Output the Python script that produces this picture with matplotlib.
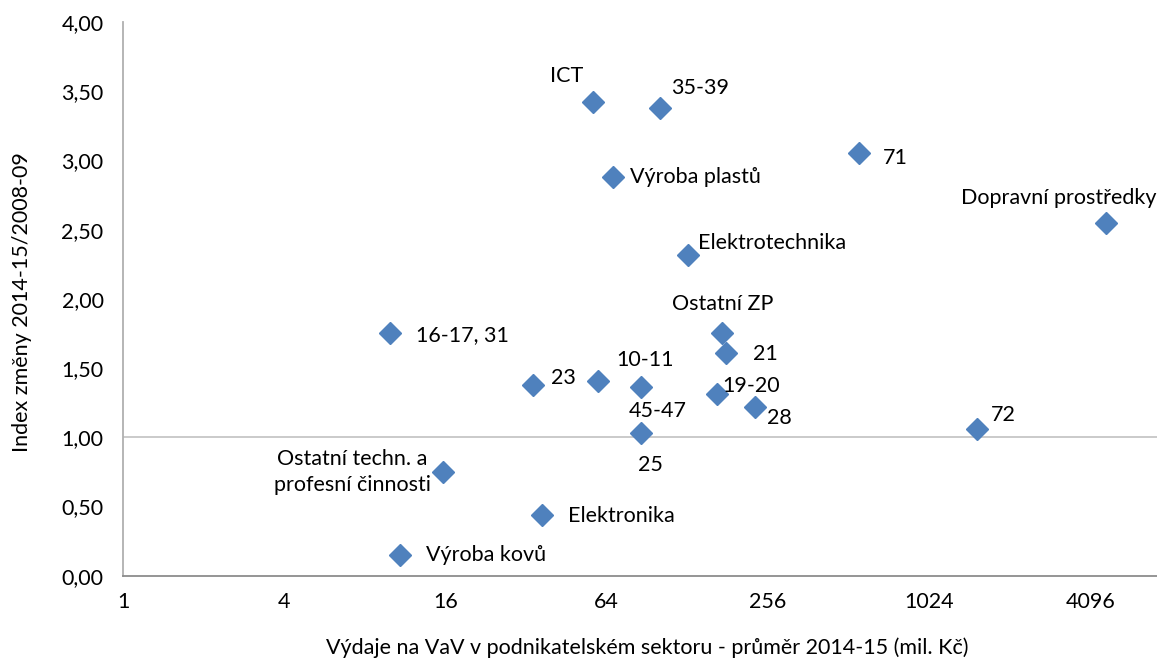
import matplotlib
matplotlib.use("Agg")
import matplotlib.pyplot as plt
from matplotlib.ticker import FixedLocator, FuncFormatter

plt.rcParams['font.family'] = ['Lato', 'DejaVu Sans']

# sector labels, R&D spending (mil. Kc) and change index
labels = ["ICT", "35-39", "71", "Výroba plastů", "Dopravní prostředky",
          "Elektrotechnika", "Ostatní ZP", "16-17, 31", "21", "23", "10-11",
          "45-47", "19-20", "28", "72", "25",
          "Ostatní techn. a\nprofesní činnosti", "Elektronika", "Výroba kovů"]
spend = [56.9, 101, 561, 67.6, 4690, 129, 173, 9.9, 179, 34, 59.4,
         86, 165, 229, 1549, 86, 15.7, 36.7, 10.8]
index = [3.42, 3.38, 3.05, 2.88, 2.55, 2.32, 1.75, 1.75, 1.61, 1.38, 1.41,
         1.36, 1.31, 1.22, 1.06, 1.03, 0.75, 0.44, 0.15]

# label offsets in points and alignment per point
offsets = [(-19, 19, 'center'), (8, 14, 'left'), (17, -3, 'left'),
           (12, 0, 'left'), (36, 18, 'right'), (7, 8, 'left'),
           (0, 21, 'center'), (19, -1, 'left'), (19, -1, 'left'),
           (13, 5, 'left'), (34, 15, 'center'), (12, -17, 'center'),
           (4, 6, 'left'), (9, -8, 'left'), (10, 10, 'left'),
           (7, -23, 'center'), (-9, 0, 'right'), (19, -1, 'left'),
           (19, 0, 'left')]

xticks = [1, 4, 16, 64, 256, 1024, 4096]
yticks = [0, 0.5, 1, 1.5, 2, 2.5, 3, 3.5, 4]
fs = 15.5

fig = plt.figure(figsize=(11.57, 6.64), dpi=100)
ax = fig.add_axes([0.1063, 0.133, 0.9058, 0.8339])

ax.axhline(1.0, color='#c6c6c6', lw=1.3, zorder=1)
ax.plot(spend, index, 'D', color='#4f81bd', ms=11, mec='#4f81bd', zorder=3, ls='none')

for x, y, lab, (dx, dy, ha) in zip(spend, index, labels, offsets):
    ax.annotate(lab, (x, y), xytext=(dx, dy), textcoords='offset points',
                ha=ha, va='center', multialignment='center', fontsize=fs,
                linespacing=1.35)

ax.set_xscale('log', base=2)
ax.set_xlim(1, 8192)
ax.set_ylim(0, 4)
ax.xaxis.set_major_locator(FixedLocator(xticks))
ax.xaxis.set_minor_locator(FixedLocator([]))
ax.xaxis.set_major_formatter(FuncFormatter(lambda v, p: f"{int(round(v))}"))
ax.yaxis.set_major_locator(FixedLocator(yticks))
ax.yaxis.set_major_formatter(FuncFormatter(lambda v, p: f"{v:.2f}".replace('.', ',')))
ax.tick_params(length=0, labelsize=fs, pad=12)
ax.tick_params(axis='y', pad=14)

for s in ['top', 'right']:
    ax.spines[s].set_visible(False)
ax.spines['left'].set_color('#b0b0b0')
ax.spines['bottom'].set_color('#8c8c8c')
ax.spines['left'].set_linewidth(1.3)
ax.spines['bottom'].set_linewidth(1.3)

fig.text(0.559, 0.024, "Výdaje na VaV v podnikatelském sektoru - průměr 2014-15 (mil. Kč)",
         ha='center', va='center', fontsize=fs)
fig.text(0.019, 0.545, "Index změny 2014-15/2008-09", rotation=90,
         ha='center', va='center', fontsize=fs)

fig.savefig("out.png", dpi=100)
